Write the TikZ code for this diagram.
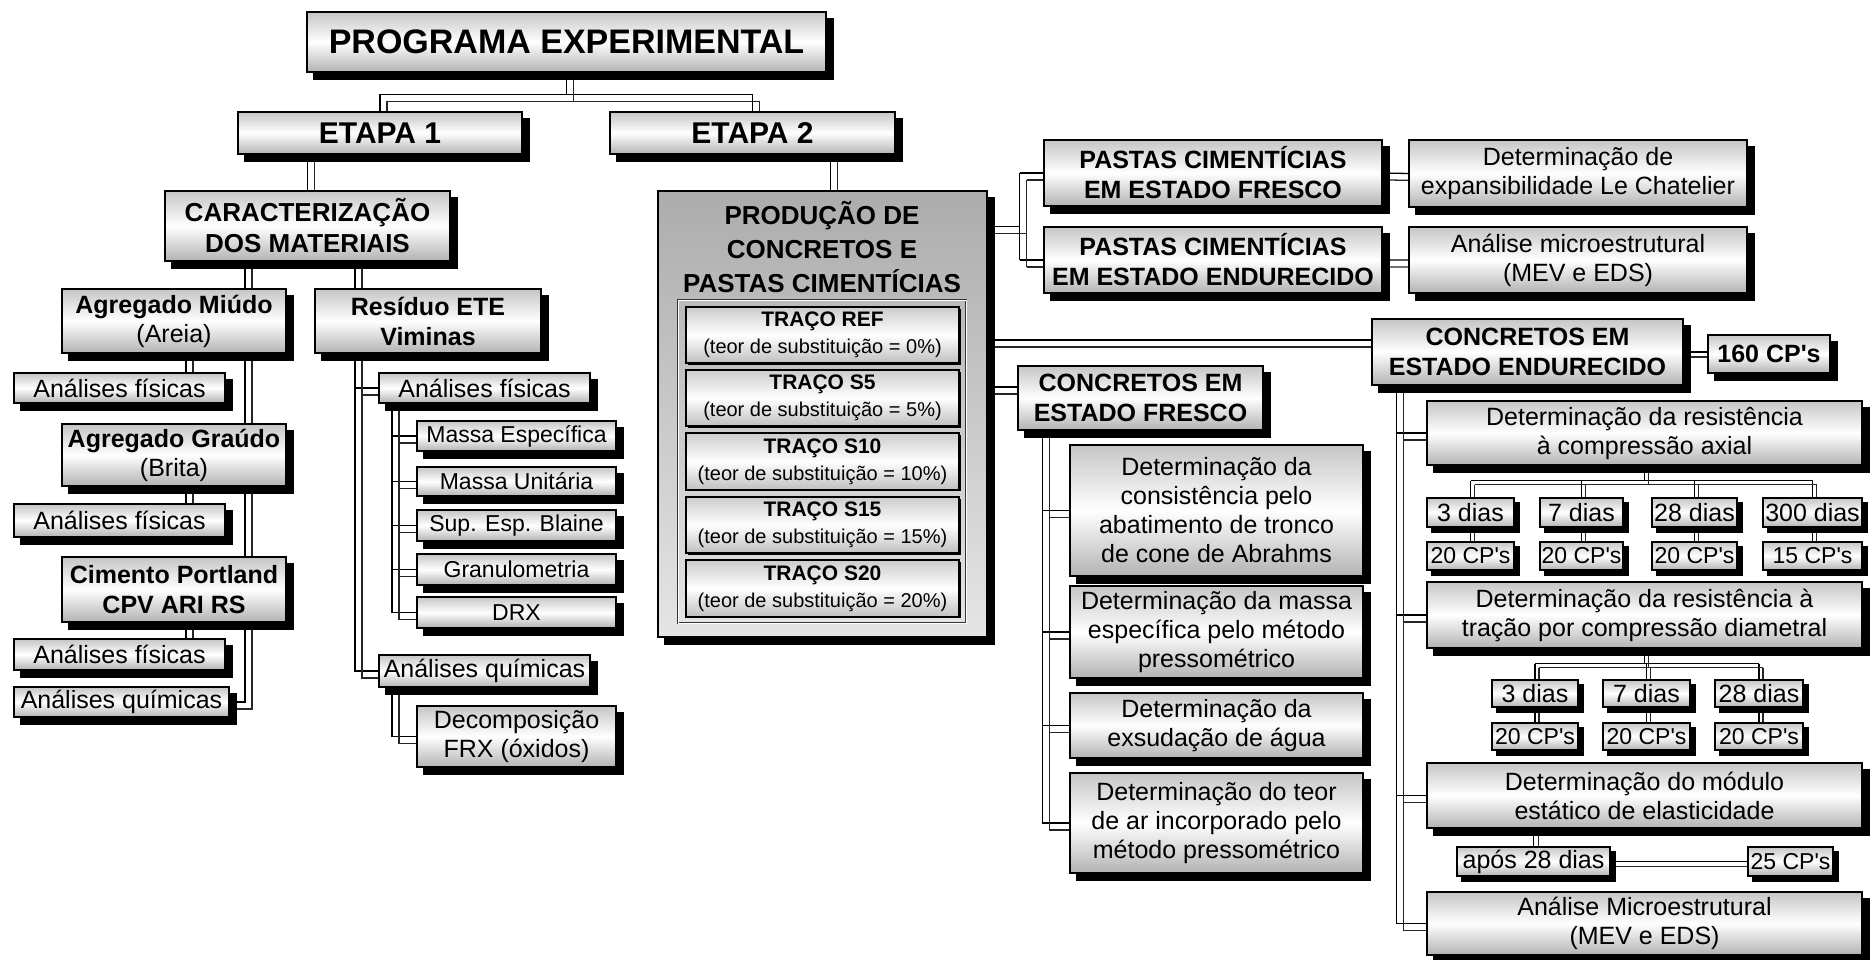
\documentclass[tikz,border=0pt]{standalone}
\usepackage{fontspec}
\setmainfont{Liberation Sans}[Ligatures=TeXOff]
\usetikzlibrary{calc}
\pgfdeclarelayer{bg}\pgfdeclarelayer{sh}
\pgfsetlayers{bg,sh,main}
\newcommand\bx[7]{\node[#1, minimum width={#5pt-#3pt}, minimum height={#6pt-#4pt}] (#2) at ({(#3+#5)/2},{(#4+#6)/2}) {#7};}
\newcommand\cn[2][7]{\draw[conn] #2; \draw[conn, black!85, transform canvas={xshift=#1pt, yshift=-#1pt}] #2;}
\tikzset{
 box/.style={draw=black, line width=1.3pt, top color=gray!45, bottom color=gray!60, middle color=white, inner sep=0pt, align=center, font=\fontsize{25}{29}\selectfont},
 bbox/.style={box, font=\fontsize{25}{30}\selectfont\bfseries},
 sbox/.style={box, font=\fontsize{23}{27}\selectfont},
 gbox/.style={draw=black, line width=1.3pt, top color=gray!65, bottom color=gray!20, inner sep=0pt},
 tbox/.style={draw=black, line width=1.2pt, top color=gray!40, bottom color=gray!50, middle color=white, inner sep=0pt, align=center, font=\fontsize{20}{27}\selectfont},
 framebox/.style={draw=black!80, double=white, double distance=1pt, line width=0.8pt, inner sep=0pt},
 conn/.style={line width=1.3pt, black},
}
\begin{document}
\begin{tikzpicture}[x=1pt,y=-1pt]
\useasboundingbox (0,0) rectangle (1873,960);
% ---- left part
\bx{box, font=\fontsize{34}{40}\selectfont\bfseries}{prog}{307}{12}{826}{72}{PROGRAMA EXPERIMENTAL}
\bx{box, font=\fontsize{30}{36}\selectfont\bfseries}{etapa1}{238}{112}{522}{154}{ETAPA 1}
\bx{box, font=\fontsize{30}{36}\selectfont\bfseries}{etapa2}{610}{112}{895}{154}{ETAPA 2}
\bx{box, font=\fontsize{26}{31}\selectfont\bfseries}{caract}{165}{191}{450}{261}{CARACTERIZAÇÃO\\DOS MATERIAIS}
\bx{box}{miudo}{62}{289}{286}{353}{\textbf{Agregado Miúdo}\\(Areia)}
\bx{bbox}{residuo}{315}{289}{541}{353}{Resíduo ETE\\Viminas}
\bx{box}{af1}{14}{373}{225}{403}{Análises físicas}
\bx{box}{graudo}{62}{424}{286}{486}{\textbf{Agregado Graúdo}\\(Brita)}
\bx{box}{af2}{14}{504}{225}{537}{Análises físicas}
\bx{bbox}{cimento}{62}{557}{286}{622}{Cimento Portland\\CPV ARI RS}
\bx{box}{af3}{14}{639}{225}{670}{Análises físicas}
\bx{box}{aq1}{14}{687}{229}{717}{Análises químicas}
\bx{box}{afr}{379}{373}{590}{403}{Análises físicas}
\bx{sbox}{me}{417}{421}{616}{451}{Massa Específica}
\bx{sbox}{mu}{417}{467}{616}{496}{Massa Unitária}
\bx{sbox}{bl}{417}{510}{616}{541}{Sup. Esp. Blaine}
\bx{sbox}{gr}{417}{554}{616}{585}{Granulometria}
\bx{sbox}{drx}{417}{597}{616}{628}{DRX}
\bx{box}{aqr}{379}{655}{590}{687}{Análises químicas}
\bx{box}{dec}{417}{706}{616}{767}{Decomposição\\FRX (óxidos)}
% ---- middle
\bx{gbox}{prod}{658}{191}{987}{637}{}
\node[font=\fontsize{26}{34}\selectfont\bfseries, align=center] (prodt) at (822,247) {PRODUÇÃO DE\\CONCRETOS E\\PASTAS CIMENTÍCIAS};
\bx{framebox}{frame}{678}{300}{966}{623}{}
\foreach \yt in {307,370,433,497,560}{\fill[black] (688,\yt+2) rectangle (961,\yt+58);}
\bx{tbox}{tref}{686}{307}{959}{363}{\textbf{\fontsize{21}{27}\selectfont TRAÇO REF}\\(teor de substituição = 0\%)}
\bx{tbox}{ts5}{686}{370}{959}{426}{\textbf{\fontsize{21}{27}\selectfont TRAÇO S5}\\(teor de substituição = 5\%)}
\bx{tbox}{ts10}{686}{433}{959}{490}{\textbf{\fontsize{21}{27}\selectfont TRAÇO S10}\\(teor de substituição = 10\%)}
\bx{tbox}{ts15}{686}{497}{959}{553}{\textbf{\fontsize{21}{27}\selectfont TRAÇO S15}\\(teor de substituição = 15\%)}
\bx{tbox}{ts20}{686}{560}{959}{617}{\textbf{\fontsize{21}{27}\selectfont TRAÇO S20}\\(teor de substituição = 20\%)}
\bx{bbox}{pf}{1044}{140}{1382}{206}{PASTAS CIMENTÍCIAS\\EM ESTADO FRESCO}
\bx{bbox}{pe}{1044}{227}{1382}{293}{PASTAS CIMENTÍCIAS\\EM ESTADO ENDURECIDO}
\bx{box}{exp}{1409}{140}{1747}{207}{Determinação de\\expansibilidade Le Chatelier}
\bx{box}{mic}{1409}{227}{1747}{293}{Análise microestrutural\\(MEV e EDS)}
\bx{bbox}{cfr}{1018}{366}{1263}{430}{CONCRETOS EM\\ESTADO FRESCO}
\bx{box}{cons}{1070}{445}{1363}{576}{Determinação da\\consistência pelo\\abatimento de tronco\\de cone de Abrahms}
\bx{box}{mes}{1070}{586}{1363}{678}{Determinação da massa\\específica pelo método\\pressométrico}
\bx{box}{exs}{1070}{693}{1363}{758}{Determinação da\\exsudação de água}
\bx{box}{teor}{1070}{773}{1363}{873}{Determinação do teor\\de ar incorporado pelo\\método pressométrico}
% ---- right
\bx{bbox}{cend}{1372}{319}{1683}{385}{CONCRETOS EM\\ESTADO ENDURECIDO}
\bx{bbox}{cp160}{1708}{335}{1830}{373}{160 CP's}
\bx{box}{compr}{1427}{401}{1862}{465}{Determinação da resistência\\à compressão axial}
\bx{box}{d3}{1427}{498}{1514}{527}{3 dias}
\bx{box}{d7}{1540}{498}{1623}{527}{7 dias}
\bx{box}{d28}{1652}{498}{1737}{527}{28 dias}
\bx{box}{d300}{1763}{498}{1862}{527}{300 dias}
\bx{sbox}{c3}{1427}{542}{1514}{570}{20 CP's}
\bx{sbox}{c7}{1540}{542}{1623}{570}{20 CP's}
\bx{sbox}{c28}{1652}{542}{1737}{570}{20 CP's}
\bx{sbox}{c300}{1763}{542}{1862}{570}{15 CP's}
\bx{box}{tr}{1427}{582}{1862}{648}{Determinação da resistência à\\tração por compressão diametral}
\bx{box}{t3}{1492}{680}{1578}{707}{3 dias}
\bx{box}{t7}{1603}{680}{1690}{707}{7 dias}
\bx{box}{t28}{1715}{680}{1803}{707}{28 dias}
\bx{sbox}{tc3}{1492}{723}{1578}{750}{20 CP's}
\bx{sbox}{tc7}{1603}{723}{1690}{750}{20 CP's}
\bx{sbox}{tc28}{1715}{723}{1803}{750}{20 CP's}
\bx{box}{mod}{1427}{763}{1862}{828}{Determinação do módulo\\estático de elasticidade}
\bx{box}{apos}{1457}{847}{1610}{876}{após 28 dias}
\bx{sbox}{cp25}{1748}{847}{1833}{876}{25 CP's}
\bx{box}{anal}{1427}{892}{1862}{955}{Análise Microestrutural\\(MEV e EDS)}
% ---- shadows
\begin{pgfonlayer}{sh}
\foreach \n in {prog,etapa1,etapa2,caract,miudo,residuo,af1,graudo,af2,cimento,af3,aq1,afr,me,mu,bl,gr,drx,aqr,dec,prod,pf,pe,exp,mic,cfr,cons,mes,exs,teor,cend,cp160,compr,tr,mod,anal}
  {\fill[black] ([shift={(7pt,-7pt)}]\n.south west) rectangle ([shift={(7pt,-7pt)}]\n.north east);}
\foreach \n in {d3,d7,d28,d300,c3,c7,c28,c300,t3,t7,t28,tc3,tc7,tc28,apos,cp25}
  {\fill[black] ([shift={(5pt,-5pt)}]\n.south west) rectangle ([shift={(5pt,-5pt)}]\n.north east);}
\end{pgfonlayer}
% ---- connectors
\path (prog.south) ++(0,22) coordinate (pj);
\path ([xshift=8pt]prod.north) coordinate (e2p);
\path ([xshift=-62.5pt]caract.south) coordinate (lt);
\path ([xshift=47.5pt]caract.south) coordinate (rt);
\path ([xshift=12pt]miudo.south) coordinate (m1);
\path ([xshift=12pt]graudo.south) coordinate (m2);
\path ([xshift=12pt]cimento.south) coordinate (m3);
\path ([xshift=-92.5pt]afr.south) coordinate (st);
\path ([xshift=-92.5pt]aqr.south) coordinate (st2);
\path ([yshift=-36pt]prod.north east) coordinate (pp);
\path (pp) ++(32,0) coordinate (pj2);
\path ([yshift=12pt]cend.west) coordinate (ce);
\path ([yshift=11pt]cfr.west) coordinate (cf);
\path ([xshift=25pt]cfr.south west) coordinate (ft);
\path ([xshift=25pt]cend.south west) coordinate (et);
\path (compr.south) ++(0,15) coordinate (cj);
\path (tr.south) ++(0,15) coordinate (tj);
\begin{pgfonlayer}{bg}
\cn{(prog.south) -- (pj) (etapa1.north) |- (pj) -| (etapa2.north)}
\cn{(caract.north) -- (caract.north |- etapa1.south)}
\cn{(e2p) -- (e2p |- etapa2.south)}
\cn{(lt) |- (aq1.east)}
\cn{(rt) |- (aqr.west) (rt |- afr.west) -- (afr.west)}
\cn{(m1) -- (m1 |- af1.north) (m2) -- (m2 |- af2.north) (m3) -- (m3 |- af3.north)}
\cn{(st) |- (drx.west) (st |- me.west) -- (me.west) (st |- mu.west) -- (mu.west) (st |- bl.west) -- (bl.west) (st |- gr.west) -- (gr.west)}
\cn{(st2) |- (dec.west)}
\cn{(pp) -- (pj2) (pj2 |- pf.west) -- (pj2 |- pe.west) (pj2 |- pf.west) -- (pf.west) (pj2 |- pe.west) -- (pe.west)}
\cn{(pf.east) -- (exp.west) (pe.east) -- (mic.west)}
\cn{(ce) -- (ce -| prod.east)}
\cn{(cf) -- (cf -| prod.east)}
\cn{(ft) |- (teor.west) (ft |- cons.west) -- (cons.west) (ft |- mes.west) -- (mes.west) (ft |- exs.west) -- (exs.west)}
\cn{(et) |- (anal.west) (et |- compr.west) -- (compr.west) (et |- tr.west) -- (tr.west) (et |- mod.west) -- (mod.west)}
\cn[5]{(cend.east) -- (cend.east -| cp160.west)}
\cn[4]{(compr.south) -- (cj) (cj -| d3.north) -- (cj -| d300.north) (cj -| d3.north) -- (d3.north) (cj -| d7.north) -- (d7.north) (cj -| d28.north) -- (d28.north) (cj -| d300.north) -- (d300.north)}
\cn[4]{(d3.south) -- (c3.north) (d7.south) -- (c7.north) (d28.south) -- (c28.north) (d300.south) -- (c300.north)}
\cn[4]{(tr.south) -- (tj) (tj -| t3.north) -- (tj -| t28.north) (tj -| t3.north) -- (t3.north) (tj -| t7.north) -- (t7.north) (tj -| t28.north) -- (t28.north)}
\cn[4]{(t3.south) -- (tc3.north) (t7.south) -- (tc7.north) (t28.south) -- (tc28.north)}
\cn[5]{(apos.north) -- (apos.north |- mod.south)}
\cn[5]{(apos.east) -- (cp25.west)}
\end{pgfonlayer}
\end{tikzpicture}
\end{document}
